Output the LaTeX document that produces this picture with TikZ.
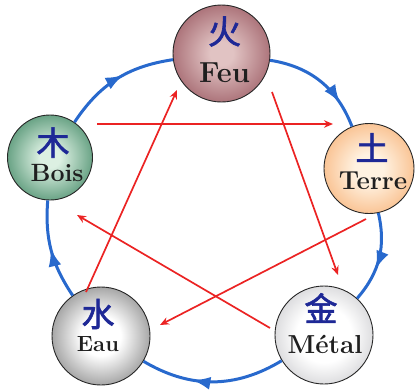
\documentclass[tikz,border=0pt]{standalone}
\usepackage{fontspec}
\newfontfamily\cjk{Noto Sans CJK SC}[FakeBold=2]
\usetikzlibrary{calc,arrows.meta,decorations.markings}

\definecolor{feuin}{RGB}{225,195,195}
\definecolor{feuout}{RGB}{105,15,30}
\definecolor{boisin}{RGB}{220,240,226}
\definecolor{boisout}{RGB}{0,92,48}
\definecolor{terrein}{RGB}{255,242,225}
\definecolor{terreout}{RGB}{242,130,40}
\definecolor{eauin}{RGB}{255,255,255}
\definecolor{eauout}{RGB}{20,20,20}
\definecolor{metalin}{RGB}{255,255,255}
\definecolor{metalout}{RGB}{145,145,152}
\definecolor{cycblue}{RGB}{40,105,205}
\definecolor{ctrlred}{RGB}{235,35,35}
\definecolor{ziblue}{RGB}{30,40,150}

\pgfdeclareradialshading{feushade}{\pgfpoint{0bp}{0bp}}{color(0bp)=(feuin); color(6bp)=(feuin); color(30bp)=(feuout!55!feuin); color(50bp)=(feuout)}
\pgfdeclareradialshading{boisshade}{\pgfpoint{0bp}{0bp}}{color(0bp)=(boisin); color(6bp)=(boisin); color(28bp)=(boisout!60!boisin); color(50bp)=(boisout)}
\pgfdeclareradialshading{terreshade}{\pgfpoint{0bp}{0bp}}{color(0bp)=(terrein); color(8bp)=(terrein); color(50bp)=(terreout)}
\pgfdeclareradialshading{eaushade}{\pgfpoint{0bp}{0bp}}{color(0bp)=(eauin); color(10bp)=(eauin); color(50bp)=(eauout)}
\pgfdeclareradialshading{metalshade}{\pgfpoint{0bp}{0bp}}{color(0bp)=(metalin); color(14bp)=(metalin); color(50bp)=(metalout)}

\tikzset{
  sphere/.style={circle, draw=black!85, line width=0.9pt, inner sep=0pt, shade, shading=#1},
  cyc/.style={draw=cycblue, line width=3pt},
  cycarrow/.style={postaction={decorate}, decoration={markings, mark=at position #1 with {\arrow[cycblue]{Latex[length=18pt,width=13pt]}}}},
  ctrl/.style={draw=ctrlred, line width=1.7pt, -{Stealth[length=9pt,width=7.5pt]}},
  zi/.style={font=\cjk\fontsize{33}{33}\selectfont, text=ziblue, inner sep=0pt},
  lab/.style={font=\bfseries\fontsize{#1}{#1}\selectfont, text=black!88, inner sep=0pt},
  lab/.default=25
}

\begin{document}
\begin{tikzpicture}[x=1pt,y=-1pt]
\useasboundingbox (0,0) rectangle (419,389);

% spheres
\node[sphere=feushade, minimum size=97pt] (feu) at (221.5,53.5) {};
\node[sphere=boisshade, minimum size=85pt] (bois) at (50,157.5) {};
\node[sphere=terreshade, minimum size=90pt] (terre) at (369,168.5) {};
\node[sphere=eaushade, minimum size=98pt] (eau) at (101,336) {};
\node[sphere=metalshade, minimum size=98pt] (metal) at (324,335) {};

% characters and names
\node[zi] (feuzi) at ($(feu)+(3,-22)$) {火};
\node[lab=29] (feulab) at ($(feu)+(3,19)$) {Feu};
\node[zi] (boiszi) at ($(bois)+(3,-15)$) {木};
\node[lab=25] (boislab) at ($(bois)+(7,15)$) {Bois};
\node[zi] (terrezi) at ($(terre)+(3,-21)$) {土};
\node[lab=26] (terrelab) at ($(terre)+(4,12)$) {Terre};
\node[zi] (eauzi) at ($(eau)+(-3,-22)$) {水};
\node[lab=22] (eaulab) at ($(eau)+(-3,8)$) {Eau};
\node[zi] (metalzi) at ($(metal)+(-3,-27)$) {金};
\node[lab=26] (metallab) at ($(metal)+(1,9)$) {Métal};

% generating cycle (blue)
\draw[cyc, cycarrow=0.76] (feu) to[bend left=30] (terre);
\draw[cyc, cycarrow=0.62] (terre) to[bend left=27] (metal);
\draw[cyc, cycarrow=0.64] (metal) to[bend left=31] (eau);
\draw[cyc, cycarrow=0.52] (eau) to[bend left=19] (bois);
\draw[cyc, cycarrow=0.57] (bois) to[bend left=24] (feu);

% control cycle (red)
\draw[ctrl] ($(bois)+(47,-33.5)$) -- ($(terre)+(-36,-44.5)$);
\draw[ctrl] ($(feu)+(50.5,38.5)$) -- ($(metal)+(14,-60)$);
\draw[ctrl] ($(terre)+(-3,50.5)$) -- ($(eau)+(59,-11)$);
\draw[ctrl] ($(metal)+(-54,-7)$) -- ($(bois)+(27,57.5)$);
\draw[ctrl] ($(eau)+(-15,-44)$) -- ($(feu)+(-44.5,36.5)$);
\end{tikzpicture}
\end{document}
